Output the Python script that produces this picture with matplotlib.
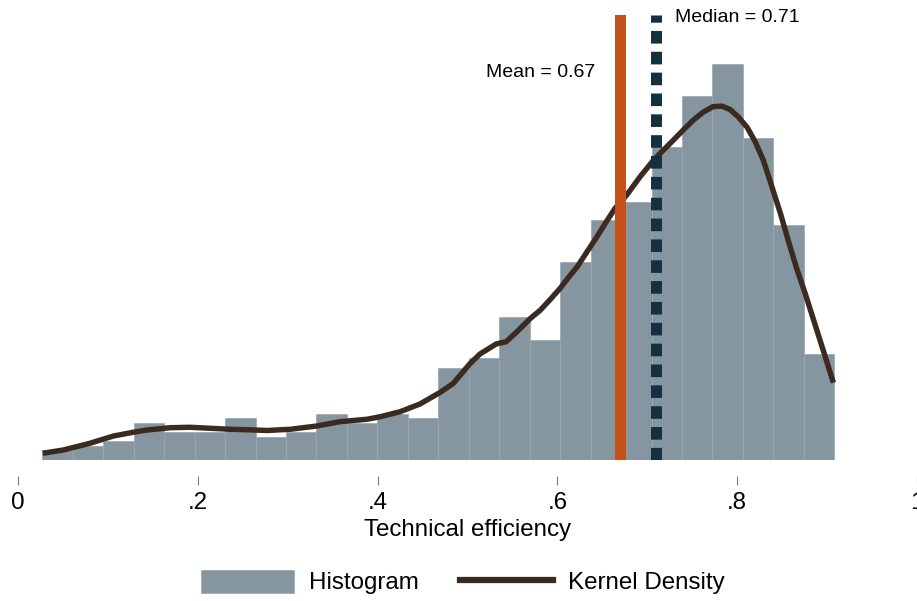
"""
Histogram of technical efficiency scores with kernel density overlay,
plus vertical markers for the sample mean and median.
"""

import matplotlib
matplotlib.use('Agg')

import matplotlib.pyplot as plt
from matplotlib.patches import Patch
from matplotlib.lines import Line2D
import numpy as np

plt.rcParams['font.family'] = ['Liberation Sans', 'DejaVu Sans']

# --- data ---------------------------------------------------------------
# 26 equal-width bins over the observed range of scores
BIN_LO, BIN_HI = 0.027, 0.908
counts = np.array([2, 3, 4, 8, 6, 6, 9, 5, 6, 10, 8, 10, 9,
                   20, 22, 31, 26, 43, 52, 56, 68, 79, 86, 70, 51, 23])

# kernel density estimate (x, density)
kde_x = [0.0275, 0.050, 0.080, 0.106, 0.128, 0.143, 0.169, 0.191, 0.214,
         0.236, 0.258, 0.277, 0.303, 0.332, 0.358, 0.388, 0.403, 0.425,
         0.447, 0.469, 0.484, 0.503, 0.514, 0.532, 0.543, 0.555, 0.570,
         0.581, 0.592, 0.603, 0.612, 0.622, 0.633, 0.644, 0.654, 0.664,
         0.677, 0.692, 0.707, 0.718, 0.729, 0.740, 0.751, 0.762, 0.773,
         0.783, 0.792, 0.801, 0.811, 0.820, 0.829, 0.838, 0.848, 0.857,
         0.866, 0.876, 0.885, 0.896, 0.907]
kde_y = [0.056, 0.085, 0.146, 0.211, 0.245, 0.265, 0.286, 0.290, 0.281,
         0.272, 0.267, 0.261, 0.272, 0.301, 0.340, 0.362, 0.385, 0.430,
         0.499, 0.601, 0.683, 0.865, 0.950, 1.040, 1.060, 1.150, 1.270,
         1.344, 1.440, 1.540, 1.635, 1.734, 1.870, 2.004, 2.135, 2.259,
         2.379, 2.545, 2.694, 2.785, 2.874, 2.965, 3.053, 3.125, 3.175,
         3.180, 3.150, 3.085, 2.990, 2.860, 2.694, 2.470, 2.217, 1.965,
         1.723, 1.485, 1.255, 0.975, 0.691]

mean_te = 0.67
median_te = 0.71

xticks = [0, 0.2, 0.4, 0.6, 0.8, 1.0]
xtick_labels = ['0', '.2', '.4', '.6', '.8', '1']

# --- colours ------------------------------------------------------------
BAR_C = '#8596a0'
KDE_C = '#3b2a1f'
MEAN_C = '#c4521a'
MED_C = '#15303f'
FS = 17.4

edges = np.linspace(BIN_LO, BIN_HI, len(counts) + 1)
width = edges[1] - edges[0]
density = counts / (counts.sum() * width)

fig = plt.figure(figsize=(9.17, 6.01), dpi=100)
ax = fig.add_axes([18 / 917, 1 - 459.5 / 601, 899 / 917, 444.5 / 601])

ax.bar(edges[:-1], density, width=width, align='edge',
       color=BAR_C, edgecolor='#98a7b0', linewidth=0.5, zorder=1)
ax.plot(kde_x, kde_y, color=KDE_C, lw=3.9, solid_joinstyle='round',
        solid_capstyle='butt', zorder=2)

ax.axvline(mean_te, color=MEAN_C, lw=7.9, zorder=3)
ax.axvline(median_te, color=MED_C, lw=7.9, zorder=3,
           dashes=(1.15, 0.75), dash_capstyle='butt')

ax.text(0.6418, 3.487, f'Mean = {mean_te:.2f}', ha='right', va='center',
        fontsize=14)
ax.text(0.7308, 3.977, f'Median = {median_te:.2f}', ha='left', va='center',
        fontsize=14)

ax.set_xlim(0, 1)
ax.set_ylim(0, 4.0)
for s in ['top', 'right', 'left']:
    ax.spines[s].set_visible(False)
ax.spines['bottom'].set_position(('outward', 11.9))
ax.spines['bottom'].set_visible(False)
ax.set_yticks([])
ax.set_xticks(xticks)
ax.set_xticklabels(xtick_labels, fontsize=FS)
ax.tick_params(axis='x', length=6.5, width=0.8, color='#7a7a7a', pad=4.8)
ax.set_xlabel('Technical efficiency', fontsize=FS, labelpad=3.6)

handles = [Patch(facecolor=BAR_C, edgecolor='#98a7b0', linewidth=0.5),
           Line2D([], [], color=KDE_C, lw=4.5)]
fig.legend(handles, ['Histogram', 'Kernel Density'], loc='center',
           bbox_to_anchor=(463 / 917, 19 / 601), ncol=2, frameon=False,
           fontsize=FS, handlelength=3.85, handleheight=1.1,
           handletextpad=0.62, columnspacing=1.7)

fig.savefig('out.png', dpi=100)
plt.close(fig)
